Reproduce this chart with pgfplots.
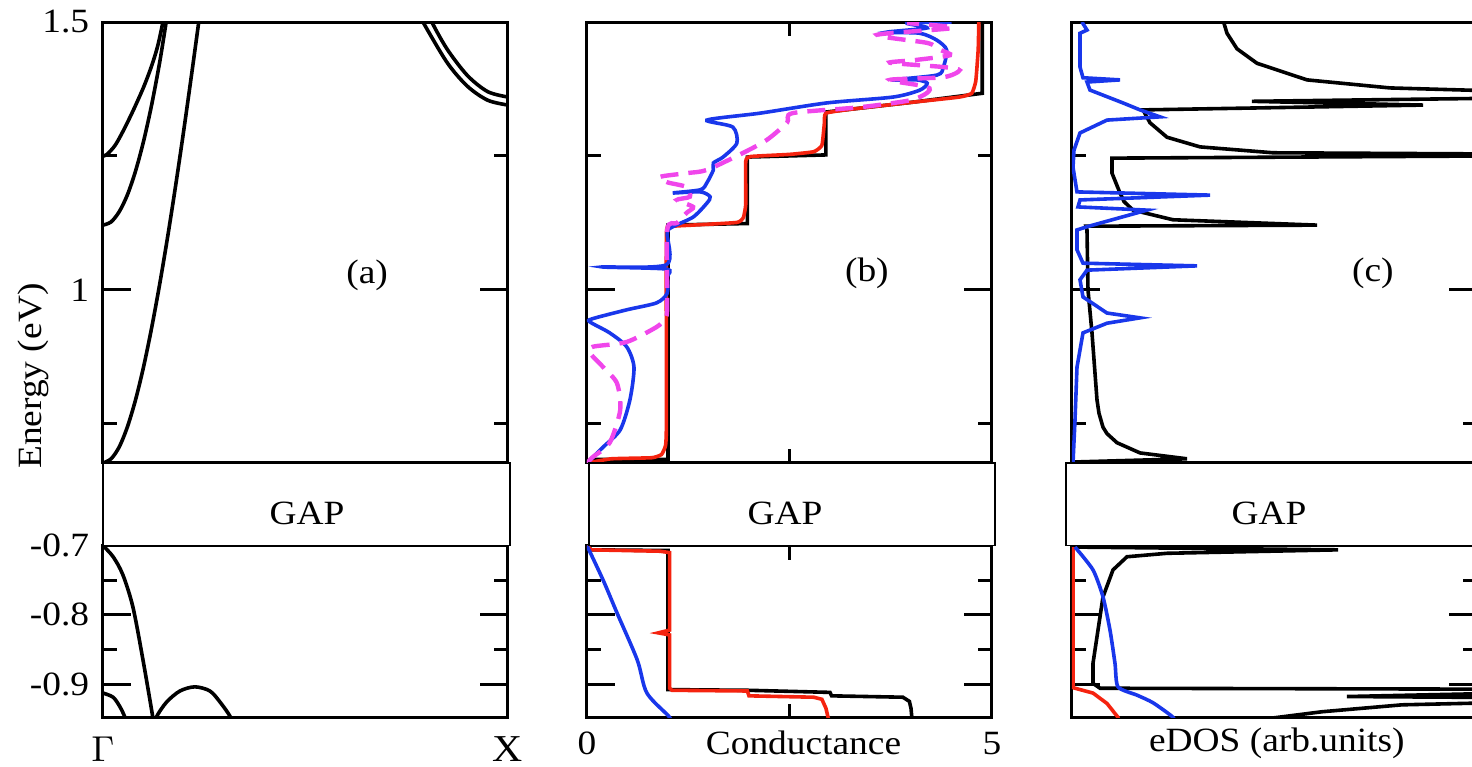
\documentclass[border=0pt]{standalone}
\usepackage{pgfplots}
\pgfplotsset{compat=1.18}
\usepackage{fontspec}
\setmainfont{Liberation Serif}[FakeStretch=1.1]
\definecolor{cblue}{RGB}{25,55,235}
\definecolor{cred}{RGB}{245,35,15}
\definecolor{cmag}{RGB}{240,70,235}
\pgfplotsset{
 base/.style={scale only axis, width=101.25pt, anchor=south west,
   axis line style={line width=0.75pt},
   every tick/.style={black,line width=0.75pt},
   major tick length=7pt, minor tick length=3.5pt, tick align=inside,
   enlargelimits=false, clip=true,
   yticklabel style={inner sep=0pt, xshift=-3.25pt},
   every axis plot/.append style={line width=0.9pt}},
 up/.style={height=110.25pt, ymin=0.6772, ymax=1.5, ytick={1,1.5}, minor ytick={0.75,1.25}, yticklabels={}},
 low/.style={height=43.075pt, ymin=-0.949, ymax=-0.7, ytick={-0.9,-0.8,-0.7}, minor ytick={-0.85,-0.75}, yticklabels={}},
}
\begin{document}
\fontsize{8.5pt}{10pt}\selectfont
\begin{tikzpicture}
% ---------------- (a) upper
\begin{axis}[base, up, at={(25.75pt,-115.75pt)}, xmin=0, xmax=1, xtick={0,1}, xticklabels={},
  yticklabels={1,1.5},
  ylabel={Energy (eV)}, ylabel style={at={(axis description cs:-0.173,0.197)}, anchor=center, rotate=0}]
\addplot[black, smooth] coordinates {(0,0.677)(0.02,0.685)(0.04,0.707)(0.06,0.744)(0.08,0.794)(0.10,0.856)(0.12,0.929)(0.14,1.011)(0.16,1.101)(0.18,1.198)(0.20,1.301)(0.22,1.409)(0.235,1.492)(0.24,1.52)};
\addplot[black, smooth] coordinates {(0,1.121)(0.02,1.127)(0.04,1.146)(0.06,1.177)(0.08,1.221)(0.10,1.277)(0.12,1.345)(0.14,1.425)(0.156,1.50)(0.16,1.52)};
\addplot[black, smooth] coordinates {(0,1.25)(0.01,1.253)(0.03,1.270)(0.05,1.297)(0.074,1.334)(0.10,1.378)(0.12,1.418)(0.135,1.455)(0.148,1.50)(0.152,1.52)};
\addplot[black, smooth] coordinates {(1,1.345)(0.95,1.354)(0.90,1.380)(0.85,1.424)(0.79,1.500)(0.785,1.51)};
\addplot[black, smooth] coordinates {(1,1.36)(0.95,1.370)(0.90,1.400)(0.85,1.449)(0.812,1.500)(0.805,1.52)};
\node at (rel axis cs:0.652,0.426) {(a)};
\end{axis}
% ---------------- (a) lower
\begin{axis}[base, low, at={(25.75pt,-179.5pt)}, xmin=0, xmax=1, xtick={0,1}, xticklabels={$\Gamma$,X},
  yticklabels={-0.9,-0.8,-0.7},
  xticklabel style={anchor=base, yshift=-11pt, font=\fontsize{9.5pt}{11pt}\selectfont}]
\addplot[black, smooth] coordinates {(0,-0.7)(0.025,-0.716)(0.049,-0.742)(0.074,-0.789)(0.099,-0.866)(0.123,-0.948)(0.125,-0.96)};
\addplot[black, smooth] coordinates {(0,-0.913)(0.025,-0.919)(0.042,-0.933)(0.054,-0.948)(0.057,-0.96)};
\addplot[black, smooth] coordinates {(0.130,-0.96)(0.1325,-0.947)(0.157,-0.926)(0.190,-0.910)(0.227,-0.904)(0.264,-0.910)(0.289,-0.926)(0.314,-0.947)(0.317,-0.96)};
\end{axis}
% ---------------- (b) upper
\begin{axis}[base, up, at={(146.75pt,-115.75pt)}, xmin=0, xmax=5, xtick={0,5}, xticklabels={}, minor xtick={2.5}]
\addplot[black] coordinates {(0,0.677)(0.05,0.684)(1.0,0.684)(1.0,1.121)(1.98,1.124)(1.98,1.248)(2.95,1.252)(2.95,1.332)(4.0,1.350)(4.88,1.367)(4.88,1.52)};
\addplot[cred, smooth, tension=0.25] coordinates {(0,0.677)(0.3,0.685)(0.8,0.687)(0.92,0.693)(0.97,0.71)(0.98,0.75)(0.98,1.10)(1.02,1.118)(1.3,1.121)(1.85,1.126)(1.93,1.135)(1.96,1.16)(1.96,1.24)(2.02,1.249)(2.5,1.253)(2.8,1.258)(2.9,1.27)(2.93,1.31)(2.95,1.33)(3.3,1.338)(4.0,1.350)(4.6,1.360)(4.75,1.367)(4.8,1.39)(4.83,1.45)(4.84,1.52)};
\addplot[cblue, smooth, tension=0.45] coordinates {(0,0.677)(0.20,0.707)(0.41,0.739)(0.53,0.795)(0.58,0.856)(0.49,0.894)(0.28,0.920)(0.04,0.940)(0.06,0.946)(0.49,0.963)(0.86,0.976)(0.99,0.994)(0.99,1.024)(0.98,1.039)(0.19,1.043)(0.98,1.047)(0.99,1.106)(1.06,1.118)(1.31,1.136)(1.48,1.162)(1.52,1.174)(1.40,1.183)(1.06,1.181)(1.40,1.187)(1.48,1.200)(1.56,1.224)(1.56,1.237)(1.68,1.248)(1.85,1.274)(1.80,1.304)(1.48,1.317)(2.14,1.330)(2.96,1.349)(3.78,1.360)(4.11,1.373)(4.20,1.386)(4.07,1.392)(3.78,1.392)(4.32,1.401)(4.40,1.416)(4.44,1.448)(4.32,1.466)(4.11,1.479)(3.70,1.481)(4.20,1.489)(3.95,1.498)(4.5,1.50)};
\addplot[cmag, line width=1.1pt, smooth, tension=0.45, dash pattern=on 4.5pt off 2.5pt] coordinates {(0,0.677)(0.07,0.688)(0.28,0.715)(0.41,0.776)(0.37,0.826)(0.20,0.856)(0.04,0.882)(0.07,0.894)(0.49,0.903)(0.86,0.931)(0.94,0.944)(0.99,0.963)(0.99,1.112)(1.11,1.125)(1.23,1.144)(1.31,1.155)(1.11,1.168)(1.27,1.174)(1.23,1.192)(0.99,1.201)(0.90,1.211)(1.23,1.218)(1.48,1.224)(1.93,1.256)(2.22,1.280)(2.47,1.312)(2.54,1.330)(3.37,1.341)(3.99,1.354)(4.20,1.368)(4.20,1.379)(3.74,1.392)(4.40,1.397)(4.60,1.410)(4.40,1.416)(3.74,1.424)(4.05,1.429)(4.48,1.438)(4.36,1.448)(4.20,1.461)(3.58,1.476)(4.52,1.489)(3.95,1.498)};
\node at (rel axis cs:0.691,0.431) {(b)};
\end{axis}
% ---------------- (b) lower
\begin{axis}[base, low, at={(146.75pt,-179.5pt)}, xmin=0, xmax=5, xtick={0,5}, xticklabels={0,5}, minor xtick={2.5},
  xticklabel style={anchor=base, yshift=-9.25pt},
  xlabel={Conductance}, xlabel style={at={(axis description cs:0.5,0)}, anchor=base, yshift=-9.25pt, xshift=3.5pt}]
\addplot[black] coordinates {(0,-0.70)(0.05,-0.706)(1.0,-0.707)(1.0,-0.908)(2.0,-0.909)(3.0,-0.912)(3.02,-0.917)(3.9,-0.919)(3.98,-0.925)(4.0,-0.935)(4.02,-0.96)};
\addplot[cred] coordinates {(0,-0.70)(0.05,-0.706)(0.9,-0.708)(1.02,-0.71)(1.02,-0.822)(0.88,-0.826)(1.02,-0.829)(1.02,-0.906)(1.05,-0.909)(1.98,-0.910)(2.0,-0.917)(2.8,-0.919)(2.9,-0.922)(2.95,-0.935)(3.0,-0.96)};
\addplot[cblue, smooth] coordinates {(0,-0.70)(0.20,-0.750)(0.37,-0.797)(0.62,-0.865)(0.74,-0.913)(1.02,-0.948)(1.04,-0.96)};
\end{axis}
% ---------------- (c) upper
\begin{axis}[base, up, at={(268pt,-115.75pt)}, xmin=0, xmax=405, xtick=\empty]
\addplot[black] coordinates {(1,0.679)(115,0.685)(68,0.696)(45,0.715)(35,0.732)(31,0.744)(27,0.770)(25,0.795)(20,0.920)(16,1.0)(15,1.112)(14,1.119)(245,1.121)(101,1.131)(61,1.149)(52,1.165)(48,1.181)(40,1.218)(40,1.246)(600,1.252)(201,1.256)(128,1.267)(95,1.285)(78,1.312)(71,1.336)(351,1.345)(180,1.352)(600,1.362)(318,1.377)(235,1.392)(185,1.423)(165,1.450)(155,1.479)(150,1.51)};
\addplot[cblue] coordinates {(1,0.677)(3,0.757)(5,0.856)(11,0.920)(35,0.938)(68,0.948)(35,0.957)(11,0.987)(8,1.019)(15,1.037)(125,1.045)(11,1.050)(5,1.075)(5,1.112)(15,1.118)(75,1.149)(6,1.155)(8,1.168)(138,1.177)(5,1.183)(1,1.229)(2,1.261)(8,1.293)(35,1.317)(88,1.323)(68,1.336)(51,1.349)(18,1.373)(15,1.388)(48,1.392)(11,1.396)(8,1.416)(8,1.479)(15,1.485)(10,1.50)};
\node at (rel axis cs:0.743,0.431) {(c)};
\end{axis}
% ---------------- (c) lower
\begin{axis}[base, low, at={(268pt,-179.5pt)}, xmin=0, xmax=405, xtick=\empty,
  xlabel={eDOS (arb.units)}, xlabel style={at={(axis description cs:0.5,0)}, anchor=base, yshift=-8.5pt, xshift=0.6pt}]
\addplot[cred] coordinates {(1,-0.702)(1,-0.905)(3,-0.906)(21,-0.913)(35,-0.928)(46,-0.948)(48,-0.96)};
\addplot[black] coordinates {(3,-0.702)(266,-0.706)(95,-0.711)(55,-0.716)(41,-0.735)(31,-0.774)(26,-0.822)(21,-0.870)(21,-0.899)(28,-0.906)(600,-0.908)(275,-0.918)(600,-0.921)(330,-0.930)(250,-0.940)(190,-0.951)};
\addplot[cblue, smooth, tension=0.4] coordinates {(3,-0.702)(21,-0.735)(31,-0.774)(38,-0.822)(43,-0.870)(46,-0.904)(65,-0.916)(81,-0.927)(101,-0.948)(104,-0.96)};
\end{axis}
% ---------------- GAP boxes
\draw[line width=0.4pt, fill=white] (25.75pt,-115.75pt) rectangle (127.5pt,-136.425pt);
\draw[line width=0.4pt, fill=white] (147.25pt,-115.75pt) rectangle (248.75pt,-136.425pt);
\draw[line width=0.4pt, fill=white] (266.5pt,-115.75pt) rectangle (372pt,-136.425pt);
\node[anchor=base] at (76.75pt,-131.25pt) {GAP};
\node[anchor=base] at (196.25pt,-131.25pt) {GAP};
\node[anchor=base] at (317.25pt,-131.25pt) {GAP};
\pgfresetboundingbox
\useasboundingbox (0pt,0pt) rectangle (368pt,-191.75pt);
\end{tikzpicture}
\end{document}
